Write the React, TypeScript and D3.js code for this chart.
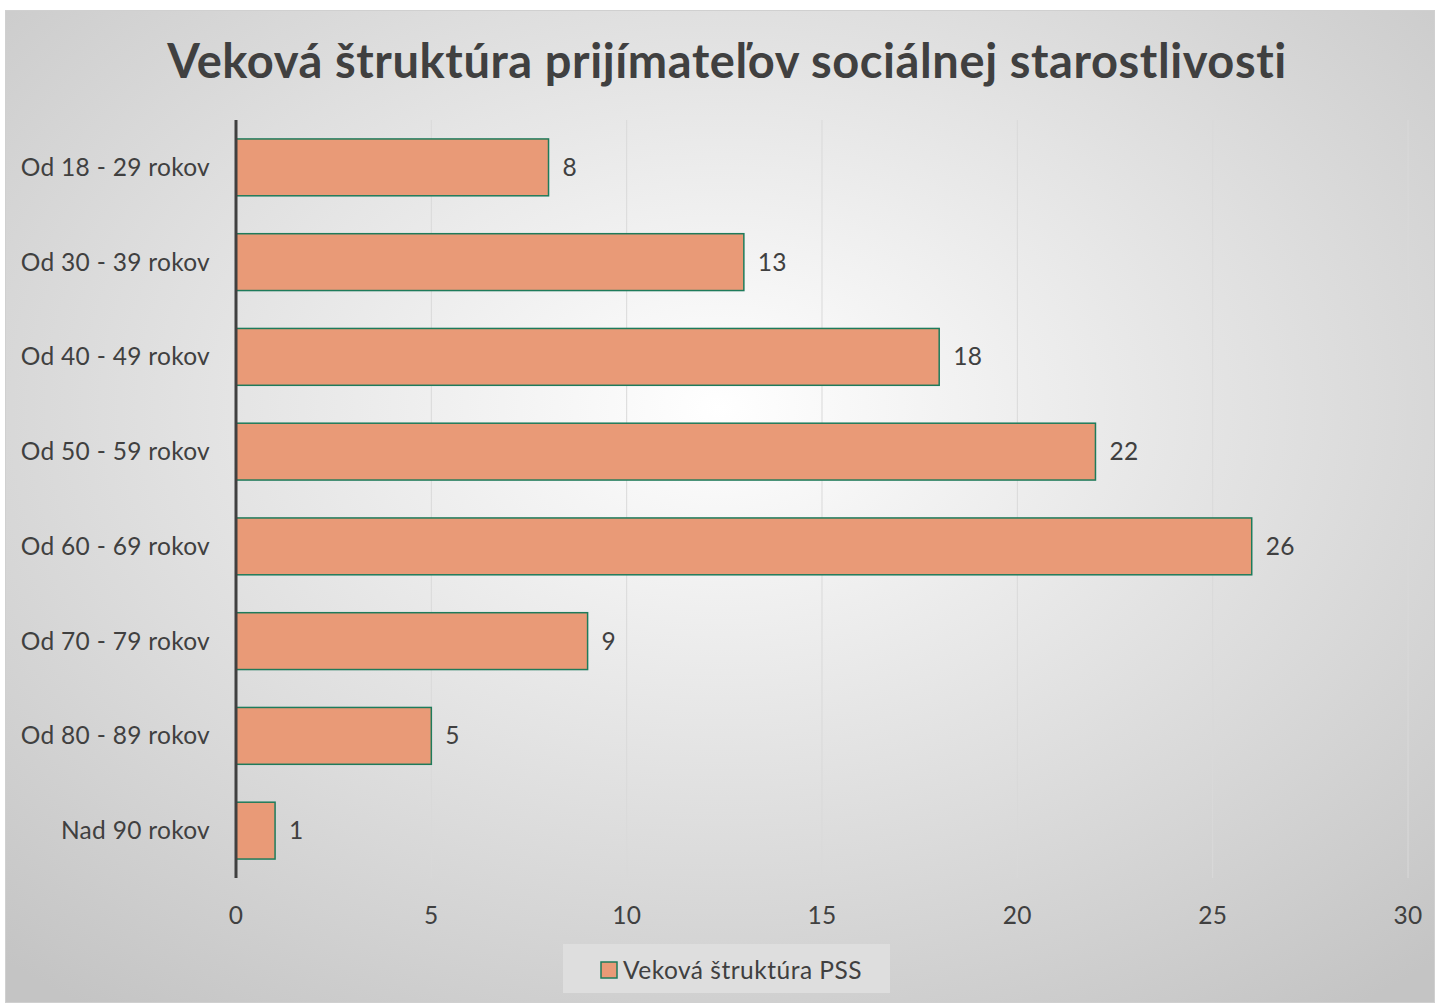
import React from "react";
import * as d3 from "d3";

const categories = [
  "Od 18 - 29 rokov",
  "Od 30 - 39 rokov",
  "Od 40 - 49 rokov",
  "Od 50 - 59 rokov",
  "Od 60 - 69 rokov",
  "Od 70 - 79 rokov",
  "Od 80 - 89 rokov",
  "Nad 90 rokov",
];
const values = [8, 13, 18, 22, 26, 9, 5, 1];
const xTicks = [0, 5, 10, 15, 20, 25, 30];
const title = "Veková štruktúra prijímateľov sociálnej starostlivosti";
const seriesName = "Veková štruktúra PSS";

const W = 1435;
const H = 1003;
const font = "Lato, 'Open Sans', sans-serif";
const textColor = "#404040";
const fs = 24.5;
const ls = 0.3;

export default function App() {
  const x = d3.scaleLinear().domain([0, 30]).range([236, 1408]);
  const y = d3.scaleBand<string>().domain(categories).range([120, 878]).paddingInner(0.4).paddingOuter(0.2);

  return (
    <svg width={W} height={H} style={{ position: "absolute", left: 0, top: 0 }}>
      <defs>
        <radialGradient id="bg" cx="50%" cy="40%" r="75%">
          <stop offset="0%" stopColor="#ffffff" />
          <stop offset="100%" stopColor="#c4c4c4" />
        </radialGradient>
      </defs>
      <rect x={0} y={0} width={W} height={H} fill="#ffffff" />
      <rect x={5.5} y={10.5} width={W - 6} height={H - 11} fill="url(#bg)" stroke="#d0d0d0" strokeWidth={1} />
      <text x={727} y={78} textAnchor="middle" fontFamily={font} fontWeight="bold" fontSize={47} letterSpacing={0.6} fill={textColor}>
        {title}
      </text>
      {xTicks.slice(1).map((t) => (
        <line key={t} x1={x(t)} x2={x(t)} y1={120} y2={878} stroke="#d9d9d9" strokeWidth={1} />
      ))}
      {categories.map((c, i) => (
        <g key={c}>
          <rect
            x={x(0)}
            y={y(c)!}
            width={x(values[i]) - x(0)}
            height={y.bandwidth()}
            fill="#E99A77"
            stroke="#1E7B5B"
            strokeWidth={1.5}
          />
          <text
            x={x(values[i]) + 14}
            y={y(c)! + y.bandwidth() / 2}
            dy="0.35em"
            fontFamily={font}
            fontSize={fs}
            letterSpacing={ls}
            fill={textColor}
          >
            {values[i]}
          </text>
          <text
            x={210}
            y={y(c)! + y.bandwidth() / 2}
            dy="0.35em"
            textAnchor="end"
            fontFamily={font}
            fontSize={fs}
            letterSpacing={ls}
            fill={textColor}
          >
            {c}
          </text>
        </g>
      ))}
      <line x1={x(0)} x2={x(0)} y1={120} y2={878} stroke="#404040" strokeWidth={3} />
      {xTicks.map((t) => (
        <text key={t} x={x(t)} y={924} textAnchor="middle" fontFamily={font} fontSize={fs} letterSpacing={ls} fill={textColor}>
          {t}
        </text>
      ))}
      <rect x={563} y={944} width={327} height={49} fill="#dedede" />
      <rect x={601} y={962} width={16} height={16} fill="#E99A77" stroke="#1E7B5B" strokeWidth={1.5} />
      <text x={623} y={970} dy="0.35em" fontFamily={font} fontSize={fs} letterSpacing={0.5} fill={textColor}>
        {seriesName}
      </text>
    </svg>
  );
}
